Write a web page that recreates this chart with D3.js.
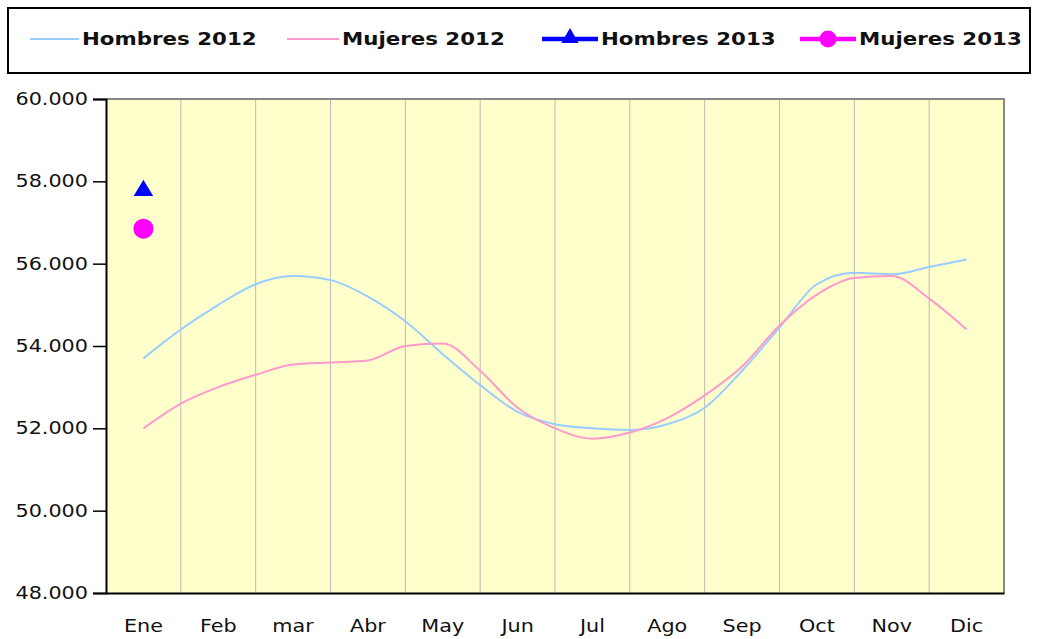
<!DOCTYPE html>
<html lang="es">
<head>
<meta charset="UTF-8">
<title>Hombres y Mujeres 2012-2013</title>
<style>
  body { margin: 0; background: #fff; }
  svg { display: block; }
  text { font-family: Verdana, "DejaVu Sans", sans-serif; fill: #111; }
</style>
</head>
<body>
<script src="https://d3js.org/d3.v7.min.js"></script>
<script>
// categories and values (half-month steps)
const months = ["Ene", "Feb", "mar", "Abr", "May", "Jun", "Jul", "Ago", "Sep", "Oct", "Nov", "Dic"];
const monthPos = [0, 0.5, 1, 1.5, 2, 2.5, 3, 3.5, 4, 4.5, 5, 5.5, 6, 6.5, 7, 7.5, 8, 8.5, 9, 9.5, 10, 10.5, 11];
const hombres2012 = [53700, 54400, 55000, 55500, 55700, 55600, 55200, 54600, 53800, 53050, 52400, 52100,
                     52000, 51960, 52100, 52500, 53400, 54450, 55500, 55780, 55740, 55920, 56100];
const mujeres2012 = [52000, 52600, 53000, 53300, 53550, 53600, 53650, 54000, 54060, 53400, 52500, 52000,
                     51750, 51900, 52250, 52800, 53500, 54500, 55250, 55650, 55700, 55150, 54400];
const hombres2013 = [57800];
const mujeres2013 = [56850];
const yTicks = [48000, 50000, 52000, 54000, 56000, 58000, 60000];

const W = 1038, H = 639;
const plot = { left: 106, right: 1004, top: 99, bottom: 593 };
const stretch = 1.22; // the picture is a bit wider than tall, text too

const svg = d3.select("body").append("svg").attr("width", W).attr("height", H);

const x = d3.scaleLinear().domain([-0.5, 11.5]).range([plot.left, plot.right]);
const y = d3.scaleLinear().domain([48000, 60000]).range([plot.bottom, plot.top]);
const fmt = d => d3.format(",")(d).replace(/,/g, ".");

function wideText(g, tx, ty, str, anchor, size, weight) {
  return g.append("text")
    .attr("transform", "translate(" + tx + "," + ty + ") scale(" + stretch + ",1)")
    .attr("text-anchor", anchor)
    .style("font-size", size + "px")
    .style("font-weight", weight || "normal")
    .text(str);
}

// plot background
svg.append("rect")
  .attr("x", plot.left).attr("y", plot.top)
  .attr("width", plot.right - plot.left).attr("height", plot.bottom - plot.top)
  .attr("fill", "#FFFFCC");

// vertical gridlines between months
svg.append("g").selectAll("line")
  .data(d3.range(1, 12))
  .enter().append("line")
  .attr("x1", d => x(d - 0.5)).attr("x2", d => x(d - 0.5))
  .attr("y1", plot.top).attr("y2", plot.bottom)
  .attr("stroke", "#BBBBBB").attr("stroke-width", 1);

// frame top/right
svg.append("path")
  .attr("d", "M" + plot.left + "," + plot.top + "H" + plot.right + "V" + plot.bottom)
  .attr("fill", "none").attr("stroke", "#888").attr("stroke-width", 2);

// y axis
const yAxis = d3.axisLeft(y).tickValues(yTicks).tickSize(13).tickFormat("");
const yg = svg.append("g").attr("transform", "translate(" + plot.left + ",0)").call(yAxis);
yg.select(".domain").attr("stroke", "#000").attr("stroke-width", 2);
yg.selectAll(".tick line").attr("stroke", "#000").attr("stroke-width", 1.5);
yTicks.forEach(v => wideText(svg, 88, y(v) + 6, fmt(v), "end", 17));

// x axis
const xAxis = d3.axisBottom(x).tickValues([]).tickSizeOuter(0);
const xg = svg.append("g").attr("transform", "translate(0," + plot.bottom + ")").call(xAxis);
xg.select(".domain").attr("stroke", "#000").attr("stroke-width", 2);
months.forEach((m, i) => wideText(svg, x(i), 632, m, "middle", 17));

// 2012 lines
const line = d3.line().x(d => x(d[0])).y(d => y(d[1])).curve(d3.curveMonotoneX);
svg.append("path")
  .datum(monthPos.map((p, i) => [p, hombres2012[i]]))
  .attr("d", line).attr("fill", "none").attr("stroke", "#99CCFF").attr("stroke-width", 2);
svg.append("path")
  .datum(monthPos.map((p, i) => [p, mujeres2012[i]]))
  .attr("d", line).attr("fill", "none").attr("stroke", "#FF99CC").attr("stroke-width", 2);

// 2013 points
const tri = d3.symbol().type(d3.symbolTriangle).size(150);
svg.append("g").selectAll("path")
  .data(hombres2013)
  .enter().append("path")
  .attr("d", tri)
  .attr("transform", (d, i) => "translate(" + x(i) + "," + (y(d) + 1) + ") scale(1.05,1)")
  .attr("fill", "#0000FF");
svg.append("g").selectAll("circle")
  .data(mujeres2013)
  .enter().append("circle")
  .attr("cx", (d, i) => x(i)).attr("cy", d => y(d))
  .attr("r", 10).attr("fill", "#FF00FF");

// legend
const lg = svg.append("g");
lg.append("rect")
  .attr("x", 8).attr("y", 8).attr("width", 1022).attr("height", 65)
  .attr("fill", "#fff").attr("stroke", "#000").attr("stroke-width", 2);
const legendItems = [
  { name: "Hombres 2012", color: "#99CCFF", x0: 30, x1: 79, w: 2, mark: null },
  { name: "Mujeres 2012", color: "#FF99CC", x0: 287, x1: 339, w: 2, mark: null },
  { name: "Hombres 2013", color: "#0000FF", x0: 542, x1: 598, w: 4.5, mark: "tri" },
  { name: "Mujeres 2013", color: "#FF00FF", x0: 800, x1: 856, w: 4.5, mark: "circle" }
];
legendItems.forEach(it => {
  lg.append("line")
    .attr("x1", it.x0).attr("x2", it.x1).attr("y1", 39).attr("y2", 39)
    .attr("stroke", it.color).attr("stroke-width", it.w);
  const cx = (it.x0 + it.x1) / 2;
  if (it.mark === "tri") {
    lg.append("path").attr("d", d3.symbol().type(d3.symbolTriangle).size(130))
      .attr("transform", "translate(" + cx + ",38)").attr("fill", it.color);
  } else if (it.mark === "circle") {
    lg.append("circle").attr("cx", cx).attr("cy", 39).attr("r", 8.5).attr("fill", it.color);
  }
  wideText(lg, it.x1 + 3, 45, it.name, "start", 17.5, "bold");
});
</script>
</body>
</html>
